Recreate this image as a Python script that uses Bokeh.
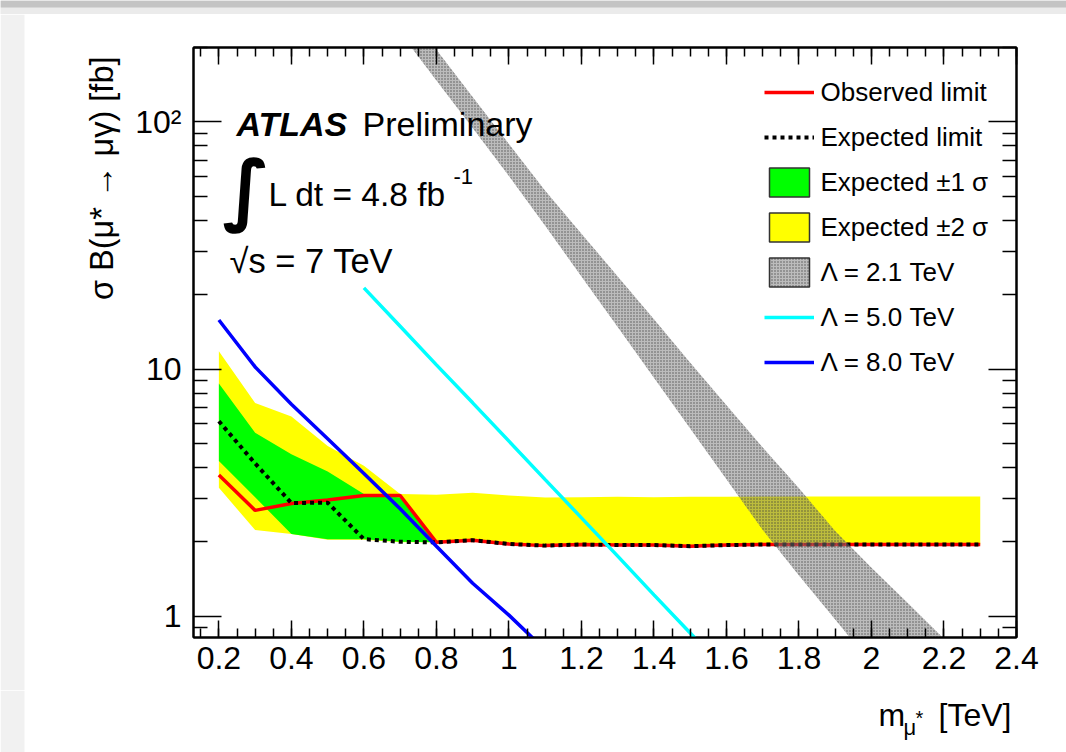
import math
from bokeh.plotting import figure
from bokeh.layouts import column, row
from bokeh.models import (ColumnDataSource, FixedTicker, LinearAxis, LogAxis, Label,
                          Legend, LegendItem, Range1d, CustomJSTickFormatter, BoxAnnotation)
from bokeh.embed import file_html
from bokeh.resources import INLINE

# ---------------- data ----------------
mass = [0.2, 0.3, 0.4, 0.5, 0.6, 0.7, 0.8, 0.9, 1.0, 1.1, 1.2, 1.3, 1.4, 1.5, 1.6, 1.7,
        1.8, 1.9, 2.0, 2.1, 2.2, 2.3]
observed = [3.73, 2.68, 2.86, 2.95, 3.08, 3.08, 1.99, 2.03, 1.96, 1.93, 1.95, 1.94, 1.94,
            1.92, 1.94, 1.95, 1.95, 1.95, 1.95, 1.95, 1.95, 1.95]
expected = [6.15, 4.15, 2.87, 2.88, 2.05, 2.00, 1.99, 2.03, 1.96, 1.93, 1.95, 1.94, 1.94,
            1.92, 1.94, 1.95, 1.95, 1.95, 1.95, 1.95, 1.95, 1.95]
exp_p1 = [8.75, 5.52, 4.52, 3.85, 3.12, 3.02, 1.99, 2.03, 1.96, 1.93, 1.95, 1.94, 1.94,
          1.92, 1.94, 1.95, 1.95, 1.95, 1.95, 1.95, 1.95, 1.95]
exp_m1 = [4.25, 3.03, 2.15, 2.05, 2.05, 2.00, 1.99, 2.03, 1.96, 1.93, 1.95, 1.94, 1.94,
          1.92, 1.94, 1.95, 1.95, 1.95, 1.95, 1.95, 1.95, 1.95]
exp_p2 = [11.8, 7.28, 6.43, 4.88, 4.06, 3.12, 3.10, 3.16, 3.08, 3.02, 3.03, 3.04, 3.03,
          3.04, 3.04, 3.05, 3.05, 3.05, 3.05, 3.05, 3.05, 3.05]
exp_m2 = [3.31, 2.23, 2.15, 2.04, 2.04, 1.99, 1.99, 2.03, 1.96, 1.93, 1.95, 1.94, 1.94,
          1.92, 1.94, 1.95, 1.95, 1.95, 1.95, 1.95, 1.95, 1.95]

lam21_mass = [0.6, 0.7, 0.8, 0.9, 1.0, 1.1, 1.2, 1.3, 1.4, 1.5, 1.6, 1.7, 1.8, 1.9, 2.0,
              2.1, 2.2, 2.3]
lam21_lo = [360, 230, 147, 94.4, 60.4, 38.0, 23.7, 14.8, 9.22, 5.75, 3.58, 2.23, 1.46,
            0.97, 0.64, 0.43, 0.28, 0.19]
lam21_hi = [473, 305, 196, 126, 81.3, 52.6, 35.3, 23.7, 15.9, 10.6, 7.13, 4.81, 3.29,
            2.21, 1.57, 1.13, 0.81, 0.58]

lam50_mass = [0.6, 0.7, 0.8, 0.9, 1.0, 1.1, 1.2, 1.3, 1.4, 1.5, 1.6]
lam50 = [21.3, 14.9, 10.4, 7.30, 5.11, 3.57, 2.50, 1.75, 1.22, 0.855, 0.598]

lam80_mass = [0.2, 0.3, 0.4, 0.5, 0.6, 0.7, 0.8, 0.9, 1.0, 1.1]
lam80 = [15.8, 10.2, 7.21, 5.22, 3.78, 2.72, 1.92, 1.36, 1.01, 0.73]

x_major = [0.2, 0.4, 0.6, 0.8, 1.0, 1.2, 1.4, 1.6, 1.8, 2.0, 2.2, 2.4]
x_minor = [0.15, 0.2, 0.25, 0.3, 0.35, 0.4, 0.45, 0.5, 0.55, 0.6, 0.65, 0.7, 0.75, 0.8,
           0.85, 0.9, 0.95, 1.0, 1.05, 1.1, 1.15, 1.2, 1.25, 1.3, 1.35, 1.4, 1.45, 1.5,
           1.55, 1.6, 1.65, 1.7, 1.75, 1.8, 1.85, 1.9, 1.95, 2.0, 2.05, 2.1, 2.15, 2.2,
           2.25, 2.3, 2.35, 2.4]
x_label_overrides = {1: "1", 2: "2"}
y_major = [1, 10, 100]
y_minor = [0.9, 2, 3, 4, 5, 6, 7, 8, 9, 20, 30, 40, 50, 60, 70, 80, 90, 200]
y_label_overrides = {1: "1", 10: "10", 100: "10²"}

XMIN, XMAX = 0.13, 2.4
YMIN, YMAX = 0.82, 200.0

# ---------------- page layout (pixels) ----------------
W, H = 1066, 752
TOP_H = 14           # grey window bar
LEFT_W = 125         # strip holding the y title
BOT_Y = 690          # strip holding the x title starts here
FL, FT, FR, FB = 193, 47, 1016, 637   # plot frame
FONT = "Liberation Sans"
NAN = float("nan")


def dx(px):
    return XMIN + (px - FL) / (FR - FL) * (XMAX - XMIN)


def dy(py):
    lo, hi = math.log10(YMIN), math.log10(YMAX)
    return 10 ** (hi - (py - FT) / (FB - FT) * (hi - lo))


def strip(w, h, bg="white"):
    f = figure(width=w, height=h, x_range=Range1d(0, w), y_range=Range1d(h, 0),
               output_backend="svg", toolbar_location=None, min_border=0,
               x_axis_location=None, y_axis_location=None)
    f.grid.visible = False
    f.outline_line_color = None
    f.background_fill_color = bg
    f.border_fill_color = bg
    f.frame_align = False
    return f


def box(f, l, r, t, b, color):
    f.add_layout(BoxAnnotation(left=l, right=r, top=t, bottom=b, fill_color=color,
                               fill_alpha=1, line_alpha=0))


def slab(f, text, x, y, size, font=FONT, style="normal", align="left",
         base="alphabetic", angle=0.0):
    f.add_layout(Label(x=x, y=y, text=text, text_font=font, text_font_size=f"{size}px",
                       text_font_style=style, text_color="black", text_align=align,
                       text_baseline=base, angle=angle))


# ---------------- main figure ----------------
PW = W - LEFT_W
PH = BOT_Y - TOP_H
p = figure(width=PW, height=PH, x_range=Range1d(XMIN, XMAX), y_range=Range1d(YMIN, YMAX),
           y_axis_type="log", output_backend="svg", toolbar_location=None,
           min_border_left=FL - LEFT_W, min_border_right=W - FR,
           min_border_top=FT - TOP_H, min_border_bottom=BOT_Y - FB)
p.frame_align = False
p.grid.visible = False
p.outline_line_color = "black"
p.outline_line_width = 2
p.background_fill_color = "white"
p.border_fill_color = "white"

xt = FixedTicker(ticks=x_major, minor_ticks=x_minor)
yt = FixedTicker(ticks=y_major, minor_ticks=y_minor)


def style_axis(ax, major, minor, size="32px"):
    ax.axis_line_width = 2
    ax.axis_line_color = "black"
    ax.major_tick_in = major
    ax.major_tick_out = 0
    ax.minor_tick_in = minor
    ax.minor_tick_out = 0
    ax.major_tick_line_width = 1.5
    ax.minor_tick_line_width = 1.5
    ax.major_tick_line_color = "black"
    ax.minor_tick_line_color = "black"
    ax.major_label_text_font = FONT
    ax.major_label_text_color = "black"
    ax.major_label_text_font_size = size


bx = p.xaxis[0]
bx.ticker = xt
bx.major_label_overrides = x_label_overrides
bx.major_label_standoff = 9
style_axis(bx, 17, 9)

ly = p.yaxis[0]
ly.ticker = yt
ly.major_label_overrides = y_label_overrides
ly.major_label_standoff = 12
style_axis(ly, 28, 14)

blank = CustomJSTickFormatter(code="return ''")
tx = LinearAxis(ticker=xt, formatter=blank, major_label_standoff=0)
style_axis(tx, 17, 9, "2px")
p.add_layout(tx, "above")
ry = LogAxis(ticker=yt, formatter=blank, major_label_standoff=0)
style_axis(ry, 28, 14, "2px")
p.add_layout(ry, "right")

src = ColumnDataSource(dict(mass=mass, observed=observed, expected=expected,
                            exp_p1=exp_p1, exp_m1=exp_m1, exp_p2=exp_p2, exp_m2=exp_m2))
p.varea(x="mass", y1="exp_m2", y2="exp_p2", source=src, fill_color="#ffff00")
p.varea(x="mass", y1="exp_m1", y2="exp_p1", source=src, fill_color="#00ff00")
r_obs = p.line(x="mass", y="observed", source=src, line_color="#ff0000", line_width=3.5)
r_exp = p.line(x="mass", y="expected", source=src, line_color="black", line_width=4,
               line_dash="4 4")

GREY = dict(fill_color="#7a7a7a", fill_alpha=0.5, hatch_pattern="dot", hatch_scale=3,
            hatch_weight=1, hatch_color="#3a3a3a", hatch_alpha=0.8)
p.varea(x=lam21_mass, y1=lam21_lo, y2=lam21_hi, **GREY)
r_l5 = p.line(lam50_mass, lam50, line_color="#00ffff", line_width=3.5)
r_l8 = p.line(lam80_mass, lam80, line_color="#0000ff", line_width=3.5)

# legend-only proxies (no visible data)
proxy = ColumnDataSource(dict(x=[NAN], y=[NAN]))
r_g = p.patch(x="x", y="y", source=proxy, fill_color="#00ff00", line_color="#333333",
              line_width=1.5)
r_y = p.patch(x="x", y="y", source=proxy, fill_color="#ffff00", line_color="#333333",
              line_width=1.5)
r_k = p.patch(x="x", y="y", source=proxy, line_color="#333333", line_width=1.5, **GREY)

legend = Legend(items=[
    LegendItem(label="Observed limit", renderers=[r_obs]),
    LegendItem(label="Expected limit", renderers=[r_exp]),
    LegendItem(label="Expected ±1 σ", renderers=[r_g]),
    LegendItem(label="Expected ±2 σ", renderers=[r_y]),
    LegendItem(label="Λ = 2.1 TeV", renderers=[r_k]),
    LegendItem(label="Λ = 5.0 TeV", renderers=[r_l5]),
    LegendItem(label="Λ = 8.0 TeV", renderers=[r_l8]),
], location=(763.5 - FL, FB - 380), glyph_width=50, glyph_height=36, spacing=9,
    label_standoff=7, padding=0, margin=0, label_text_font=FONT,
    label_text_font_size="26px", label_text_color="black", label_height=36,
    border_line_alpha=0, background_fill_alpha=0)
p.add_layout(legend, "center")


def lab(text, px, py, size, style="normal", font=FONT, base="alphabetic"):
    p.add_layout(Label(x=dx(px), y=dy(py), text=text, text_font=font,
                       text_font_size=f"{size}px", text_font_style=style,
                       text_color="black", text_align="left", text_baseline=base))


lab("ATLAS", 236, 123, 34, style="bold italic")
lab("Preliminary", 362, 123, 34)
lab("∫", 222, 188, 78, font="DejaVu Sans", style="bold", base="middle")
lab("L dt = 4.8 fb", 268, 194, 33.5)
lab("-1", 453, 176, 22)
lab("√s = 7 TeV", 229, 260, 34.5)

# ---------------- strips around the plot ----------------
top = strip(W, TOP_H, bg="#ebebeb")
box(top, 0, W, 0, 7, "#c4c4c4")

left = strip(LEFT_W, PH)
box(left, 0, 24, 0, PH, "#f1f1f1")
slab(left, "σ B(μ* → μγ) [fb]", 101, 56 - TOP_H, 32.5, align="right", base="middle",
     angle=math.pi / 2)

bottom = strip(W, H - BOT_Y)
box(bottom, 0, 24, 0, H - BOT_Y, "#f1f1f1")
by = lambda py: py - BOT_Y - 11
slab(bottom, "m", 878, by(725), 32)
slab(bottom, "μ", 903, by(738), 22)
slab(bottom, "*", 915, by(728), 20)
slab(bottom, "[TeV]", 938, by(725), 32)

layout = column(top, row(left, p), bottom)
open("out.html", "w").write(file_html(layout, INLINE))
